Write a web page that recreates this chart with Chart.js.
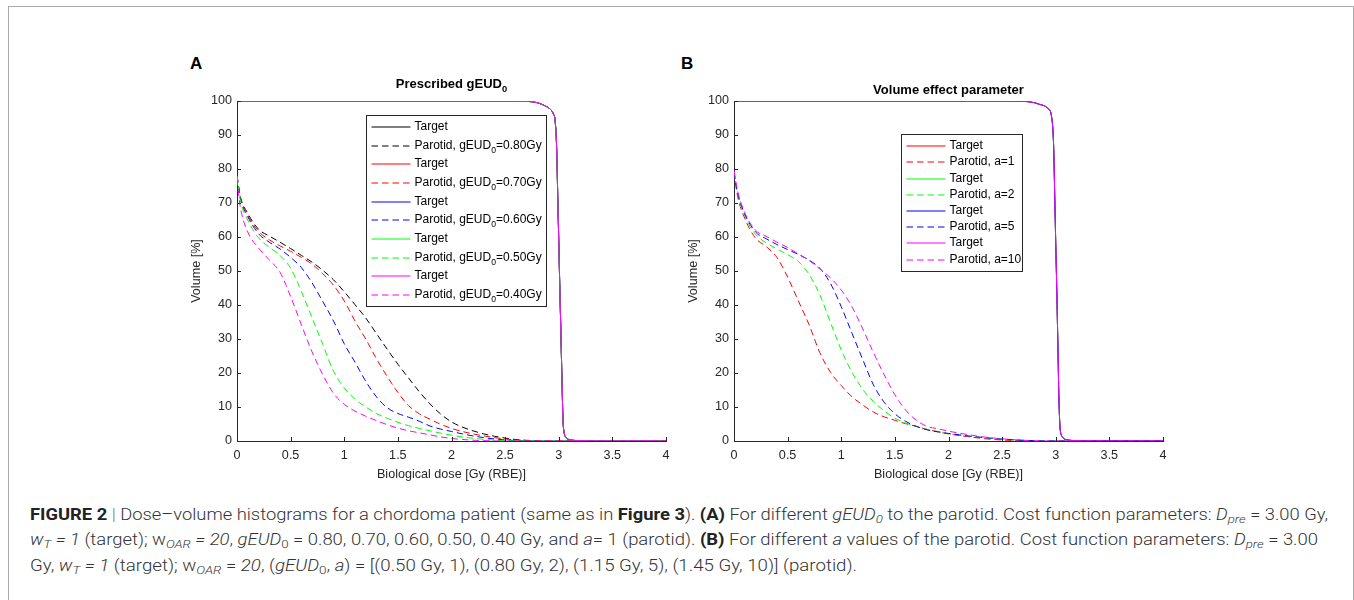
<!DOCTYPE html>
<html>
<head>
<meta charset="utf-8">
<script src="https://cdn.jsdelivr.net/npm/chart.js@4.4.0/dist/chart.umd.min.js"></script>
<style>
  body { margin: 0; background: #fff; width: 1354px; height: 600px; overflow: hidden; position: relative; font-family: "Liberation Sans", Arial, sans-serif; }
  #frame { position: absolute; left: 8px; top: 6px; width: 1346px; height: 700px; border: 1.5px solid #aaa; box-sizing: border-box; }
  canvas { position: absolute; }
  .panel { position: absolute; font-weight: bold; font-size: 17px; line-height: 17px; color: #000; }
  .cap { position: absolute; left: 30px; white-space: nowrap; font-family: Roboto, "Liberation Sans", sans-serif; font-weight: 300; font-size: 16px; line-height: 20px; color: #333; transform-origin: 0 50%; }
  .cap b { font-weight: 700; color: #222; }
  .cap sub { font-size: 0.72em; vertical-align: -0.25em; line-height: 0; }
  .bar { color: #777; }
</style>
</head>
<body>
<div id="frame"></div>
<div class="panel" style="left:190px;top:55px">A</div>
<div class="panel" style="left:681px;top:55px">B</div>
<canvas id="chartA" width="530" height="460" style="left:150px;top:40px"></canvas>
<canvas id="chartB" width="530" height="460" style="left:647px;top:40px"></canvas>

<div class="cap" data-w="1298" style="top:505px"><b>FIGURE 2</b> <span class="bar">|</span> Dose–volume histograms for a chordoma patient (same as in <b>Figure 3</b>). <b>(A)</b> For different <i>gEUD<sub>0</sub></i> to the parotid. Cost function parameters: <i>D<sub>pre</sub></i> = 3.00 Gy,</div>
<div class="cap" data-w="1288" style="top:530px"><i>w<sub>T</sub> = 1</i> (target); w<sub><i>OAR</i></sub> <i>= 20</i>, <i>gEUD</i><sub>0</sub> = 0.80, 0.70, 0.60, 0.50, 0.40 Gy, and <i>a</i>= 1 (parotid). <b>(B)</b> For different <i>a</i> values of the parotid. Cost function parameters: <i>D<sub>pre</sub></i> = 3.00</div>
<div class="cap" data-w="827" style="top:556px">Gy, <i>w<sub>T</sub> = 1</i> (target); w<sub><i>OAR</i></sub> = <i>20</i>, (<i>gEUD</i><sub>0</sub>, <i>a</i>) = [(0.50 Gy, 1), (0.80 Gy, 2), (1.15 Gy, 5), (1.45 Gy, 10)] (parotid).</div>

<script>
// dose grid shared by the parotid curves, Gy (RBE)
const doseGrid = [0, 0.03, 0.1, 0.2, 0.3, 0.4, 0.5, 0.6, 0.7, 0.8, 0.9, 1.0, 1.1, 1.2, 1.3, 1.4, 1.5,
  1.6, 1.7, 1.8, 1.9, 2.0, 2.1, 2.2, 2.3, 2.4, 2.5, 2.6, 2.7, 2.8, 2.9, 3.0, 4.0];

// panel A: parotid volume [%] for each prescribed gEUD0
const volA080 = [78, 72, 67, 62.3, 60.3, 58.5, 56.6, 54.6, 52.6, 50.2, 47.4, 43.9, 40.1, 36.2, 31.6, 27.0, 22.6,
  18.5, 14.5, 10.9, 7.9, 5.6, 4.1, 3.0, 2.1, 1.4, 0.85, 0.45, 0.2, 0.08, 0.02, 0, 0];
const volA070 = [78, 72, 66.5, 61.7, 59.2, 57.4, 55.8, 54.0, 52.0, 49.2, 45.8, 41.2, 35.3, 30.0, 24.2, 19.0, 14.3,
  10.4, 8.0, 6.4, 4.9, 3.7, 2.8, 2.1, 1.5, 1.0, 0.6, 0.3, 0.12, 0.04, 0, 0, 0];
const volA060 = [78, 71.5, 66, 61.0, 58.5, 56.5, 54.0, 51.0, 46.5, 41.0, 35.3, 28.6, 23.2, 17.6, 13.0, 9.8, 8.1,
  7.0, 5.8, 4.4, 3.5, 2.8, 2.1, 1.5, 1.0, 0.6, 0.3, 0.1, 0.03, 0, 0, 0, 0];
const volA050 = [78, 71, 65, 59.8, 57.0, 54.6, 50.8, 44.0, 36.2, 28.4, 20.5, 15.6, 12.3, 10.0, 8.1, 6.7, 5.5,
  4.5, 3.7, 3.0, 2.3, 1.7, 1.2, 0.8, 0.5, 0.25, 0.1, 0.03, 0, 0, 0, 0, 0];
const volA040 = [77, 69, 61.5, 56.8, 53.3, 49.7, 42.5, 34.2, 26.2, 19.5, 14.0, 10.8, 8.8, 7.3, 6.0, 4.8, 3.8,
  3.0, 2.4, 1.8, 1.2, 0.75, 0.45, 0.25, 0.1, 0.03, 0, 0, 0, 0, 0, 0, 0];

// panel B: parotid volume [%] for each volume effect parameter a
const volBa1 = [79, 72.5, 65.5, 59.7, 57.2, 54.0, 48.2, 41.2, 34.2, 26.0, 20.2, 16.3, 13.0, 10.6, 8.5, 7.1, 6.1,
  5.1, 4.3, 3.4, 2.7, 2.1, 1.6, 1.2, 0.8, 0.5, 0.3, 0.15, 0.05, 0, 0, 0, 0];
const volBa2 = [79, 73, 66.2, 60.8, 58.3, 56.5, 54.8, 52.8, 49.0, 43.0, 34.8, 26.8, 20.2, 15.2, 11.6, 8.9, 6.7,
  5.3, 4.3, 3.4, 2.8, 2.2, 1.8, 1.4, 1.1, 0.8, 0.55, 0.35, 0.2, 0.08, 0, 0, 0];
const volBa5 = [79, 73.5, 66.8, 61.5, 59.5, 57.8, 56.3, 54.9, 53.2, 50.8, 46.3, 39.5, 31.7, 24.0, 16.5, 11.4, 8.0,
  5.8, 4.3, 3.3, 2.7, 2.2, 1.8, 1.4, 1.1, 0.8, 0.55, 0.35, 0.2, 0.08, 0, 0, 0];
const volBa10 = [79.5, 74, 67.2, 62.0, 60.2, 58.5, 56.9, 55.0, 53.1, 50.6, 48.0, 44.4, 39.5, 33.0, 26.0, 19.5, 13.6,
  9.1, 6.1, 4.3, 3.6, 2.9, 2.3, 1.8, 1.3, 0.95, 0.65, 0.4, 0.2, 0.08, 0, 0, 0];

// target DVH (all target curves overlap)
const targetDoseA = [0, 2.5, 2.7, 2.8, 2.85, 2.9, 2.93, 2.95, 2.965, 2.98, 2.99, 3.0, 3.01, 3.02, 3.03, 3.04, 3.05, 3.07, 3.1, 3.2, 3.3, 4.0];
const targetVolA = [100, 100, 99.9, 99.5, 98.9, 98.1, 97.3, 96.2, 94.5, 86.6, 73, 59, 45, 32, 18, 6, 2.5, 1.0, 0.4, 0.1, 0, 0];
const targetDoseB = [0, 2.5, 2.7, 2.8, 2.85, 2.9, 2.93, 2.96, 2.98, 2.99, 3.0, 3.01, 3.02, 3.03, 3.04, 3.06, 3.1, 3.2, 3.3, 4.0];
const targetVolB = [100, 100, 99.9, 99.5, 99.0, 98.5, 97.7, 95.6, 87, 73, 58, 44, 28, 12, 4, 1.3, 0.4, 0.1, 0, 0];

const labelsA = ["0.80", "0.70", "0.60", "0.50", "0.40"];
const labelsB = ["1", "2", "5", "10"];
const colorsA = ["#000000", "#ff0000", "#0000ff", "#00ff00", "#ff00ff"];
const colorsB = ["#ff0000", "#00ff00", "#0000ff", "#ff00ff"];

const FONT = '"Liberation Sans", Arial, sans-serif';
const INK = "#262626";
const DASH = [6.5, 4];

const pts = (xs, ys) => xs.map((x, i) => ({ x, y: ys[i] }));

// draws text, turning "₀" into a real lowered subscript
function richText(ctx, str, x, y, size, weight, align) {
  const segs = [];
  str.split("₀").forEach((p, i, arr) => {
    if (p) segs.push({ t: p, sub: false });
    if (i < arr.length - 1) segs.push({ t: "0", sub: true });
  });
  const font = (s) => `${weight} ${s.sub ? size * 0.72 : size}px ${FONT}`;
  let w = 0;
  segs.forEach((s) => { ctx.font = font(s); s.w = ctx.measureText(s.t).width; w += s.w; });
  let cx = align === "center" ? x - w / 2 : x;
  ctx.textAlign = "left";
  ctx.textBaseline = "middle";
  segs.forEach((s) => { ctx.font = font(s); ctx.fillText(s.t, cx, s.sub ? y + size * 0.38 : y); cx += s.w; });
}

const panelTitle = {
  id: "panelTitle",
  afterDraw(chart, args, o) {
    const { ctx, chartArea: a } = chart;
    ctx.save();
    ctx.fillStyle = "#000";
    richText(ctx, o.text, (a.left + a.right) / 2, a.top - o.offset, 13, "bold", "center");
    ctx.restore();
  },
};

// MATLAB-style ticks pointing into the plot
const innerTicks = {
  id: "innerTicks",
  afterDatasetsDraw(chart) {
    const { ctx, chartArea: a, scales } = chart;
    ctx.save();
    ctx.strokeStyle = INK;
    ctx.lineWidth = 1;
    ctx.beginPath();
    scales.x.ticks.forEach((t) => {
      const px = Math.round(scales.x.getPixelForValue(t.value)) + 0.5;
      ctx.moveTo(px, a.bottom); ctx.lineTo(px, a.bottom - 4);
    });
    scales.y.ticks.forEach((t) => {
      const py = Math.round(scales.y.getPixelForValue(t.value)) + 0.5;
      ctx.moveTo(a.left, py); ctx.lineTo(a.left + 4, py);
    });
    ctx.stroke();
    ctx.restore();
  },
};

const boxLegend = {
  id: "boxLegend",
  afterDraw(chart, args, o) {
    const { ctx, chartArea: a } = chart;
    const rows = chart.data.datasets;
    const x = Math.round(a.left + o.left) + 0.5;
    const y = Math.round(a.top + o.top) + 0.5;
    const h = Math.round(o.padY * 2 + o.rowH * (rows.length - 1));
    ctx.save();
    ctx.fillStyle = "#fff";
    ctx.fillRect(x, y, o.width, h);
    ctx.strokeStyle = INK;
    ctx.lineWidth = 1;
    ctx.strokeRect(x, y, o.width, h);
    rows.forEach((ds, i) => {
      const cy = Math.round(y + o.padY + i * o.rowH);
      ctx.strokeStyle = ds.borderColor;
      ctx.lineWidth = 1.2;
      ctx.setLineDash(ds.borderDash || []);
      ctx.beginPath();
      ctx.moveTo(x + 5, cy);
      ctx.lineTo(x + 44, cy);
      ctx.stroke();
      ctx.setLineDash([]);
      ctx.fillStyle = "#000";
      richText(ctx, ds.label, x + 48, cy, 12, "normal", "left");
    });
    ctx.restore();
  },
};

function buildSets(colors, vols, targetDose, targetVol, labelFn) {
  const sets = [];
  colors.forEach((c, i) => {
    sets.push({ label: "Target", data: pts(targetDose, targetVol), borderColor: c });
    sets.push({ label: labelFn(i), data: pts(doseGrid, vols[i]), borderColor: c, borderDash: DASH });
  });
  // later series drawn on top, as in the original
  sets.forEach((s, i) => { s.order = sets.length - i; });
  return sets;
}

function makeChart(id, datasets, title, titleOffset, legend) {
  return new Chart(document.getElementById(id), {
    type: "line",
    data: { datasets },
    plugins: [panelTitle, innerTicks, boxLegend],
    options: {
      responsive: false,
      animation: false,
      events: [],
      layout: { padding: { left: 37, top: 61, right: 14, bottom: 14 } },
      elements: {
        point: { radius: 0 },
        line: { borderWidth: 1, cubicInterpolationMode: "monotone", fill: false },
      },
      plugins: {
        legend: { display: false },
        title: { display: false },
        tooltip: { enabled: false },
        panelTitle: { text: title, offset: titleOffset },
        boxLegend: legend,
      },
      scales: {
        x: {
          type: "linear", min: 0, max: 4,
          grid: { display: false, drawTicks: false },
          border: { color: INK, width: 1 },
          ticks: { stepSize: 0.5, padding: 7, color: INK, font: { family: FONT, size: 12.6 }, callback: (v) => String(v) },
          title: { display: true, text: "Biological dose [Gy (RBE)]", color: INK, padding: { top: 4, bottom: 4 }, font: { family: FONT, size: 12.6 } },
          afterFit: (s) => { s.height = 45; },
        },
        y: {
          min: 0, max: 100,
          grid: { display: false, drawTicks: false },
          border: { color: INK, width: 1 },
          ticks: { stepSize: 10, padding: 5, color: INK, font: { family: FONT, size: 12.6 } },
          title: { display: true, text: "Volume [%]", color: INK, padding: { top: 2, bottom: 2 }, font: { family: FONT, size: 12.6 } },
          afterFit: (s) => { s.width = 50; },
        },
      },
    },
  });
}

makeChart("chartA",
  buildSets(colorsA, [volA080, volA070, volA060, volA050, volA040], targetDoseA, targetVolA,
    (i) => `Parotid, gEUD₀=${labelsA[i]}Gy`),
  "Prescribed gEUD₀", 16.7,
  { left: 129, top: 14, width: 180, padY: 11.5, rowH: 18.65 });

makeChart("chartB",
  buildSets(colorsB, [volBa1, volBa2, volBa5, volBa10], targetDoseB, targetVolB,
    (i) => `Parotid, a=${labelsB[i]}`),
  "Volume effect parameter", 11,
  { left: 167, top: 33, width: 121, padY: 11.7, rowH: 16.2 });

// stretch caption lines to the widths of the justified original
document.querySelectorAll(".cap").forEach((el) => {
  const w = el.getBoundingClientRect().width;
  el.style.transform = `scaleX(${el.dataset.w / w})`;
});
</script>
</body>
</html>
